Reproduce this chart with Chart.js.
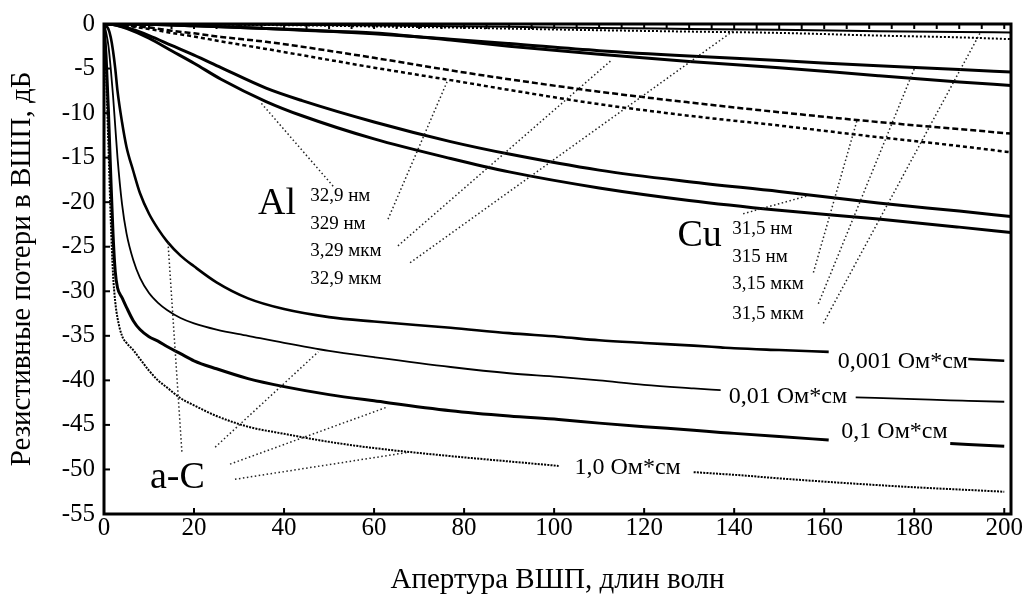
<!DOCTYPE html>
<html>
<head>
<meta charset="utf-8">
<script src="https://cdn.jsdelivr.net/npm/chart.js@4"></script>
<style>
  html, body { margin: 0; padding: 0; background: #fff; }
  #wrap { width: 1025px; height: 607px; position: relative; }
</style>
</head>
<body>
<div id="wrap"><canvas id="loss-chart"></canvas></div>
<script>
// a-C films, resistivity curves (null = gap left for the label)
const xAC = [0, 0.5, 1, 1.5, 2, 2.5, 3, 4, 5, 6.5, 8, 10, 12, 14, 17, 20, 25, 32, 40, 50, 60, 77, 90, 101, 110, 120, 131, 137, 140, 150, 161, 167, 180, 188, 192, 200];
const acR0001 = [0, -0.2, -0.6, -1.5, -3, -5, -7.5, -11, -13.8, -16.5, -19.0, -21.3, -23.0, -24.4, -26.0, -27.2, -29.0, -30.8, -32.0, -32.9, -33.4, -34.1, -34.7, -35.1, -35.5, -35.8, -36.1, -36.3, -36.4, -36.6, -36.8, null, null, null, -37.6, -37.8];
const acR001 = [0, -1, -2.5, -5, -8, -11.5, -15, -20.2, -23.5, -26.5, -28.5, -30.2, -31.3, -32.1, -33.0, -33.6, -34.3, -35.0, -35.8, -36.7, -37.4, -38.5, -39.2, -39.6, -40.0, -40.5, -40.9, -41.1, null, null, null, -41.9, -42.1, -42.25, -42.3, -42.4];
const acR01 = [0, -4, -10, -17, -23.5, -27.8, -29.6, -30.7, -31.8, -33.3, -34.3, -35.1, -35.6, -36.2, -37.0, -37.8, -38.7, -39.8, -40.7, -41.6, -42.3, -43.4, -44.0, -44.4, -44.8, -45.2, -45.6, -45.85, -45.95, -46.3, -46.7, null, null, -47.1, -47.2, -47.4];
const acR1 = [0, -6, -14, -22, -28, -31.2, -33.0, -35.0, -35.8, -36.6, -37.6, -38.9, -40.0, -40.8, -42.0, -42.8, -44.0, -45.2, -46.0, -46.9, -47.6, -48.5, -49.1, -49.6, null, null, -50.3, -50.5, -50.6, -51.0, -51.4, -51.6, -52.0, -52.2, -52.3, -52.5];

// Al and Cu films
const xMetal = [0, 2, 5, 10, 15, 20, 26, 36, 44, 60, 77, 90, 110, 130, 150, 172, 190, 201.5];
const cu31nm = [0, -0.05, -0.4, -1.3, -2.4, -3.5, -4.9, -7.2, -8.6, -11.0, -13.2, -14.6, -16.4, -17.7, -18.8, -20.1, -21.0, -21.6];
const al32nm = [0, -0.05, -0.5, -1.6, -3.0, -4.4, -6.2, -8.7, -10.3, -12.9, -15.1, -16.6, -18.4, -19.8, -20.9, -21.9, -22.8, -23.4];
const cu315nm = [0, 0, -0.15, -0.4, -0.75, -1.05, -1.45, -2.0, -2.55, -3.8, -5.2, -6.2, -7.6, -8.8, -9.9, -11.0, -11.8, -12.3];
const al329nm = [0, 0, -0.2, -0.55, -1.0, -1.4, -1.95, -2.8, -3.5, -4.9, -6.3, -7.4, -9.0, -10.3, -11.4, -12.7, -13.7, -14.4];
const cu3um = [0, 0, 0, -0.05, -0.1, -0.2, -0.3, -0.5, -0.65, -1.1, -1.7, -2.2, -3.0, -3.6, -4.1, -4.7, -5.1, -5.4];
const al3um = [0, 0, 0, -0.05, -0.1, -0.2, -0.3, -0.5, -0.7, -1.0, -1.8, -2.5, -3.4, -4.2, -4.9, -5.8, -6.5, -6.9];
const cu31um = [0, 0, 0, 0, -0.02, -0.04, -0.06, -0.08, -0.1, -0.17, -0.25, -0.32, -0.45, -0.55, -0.65, -0.8, -0.9, -0.95];
const al32um = [0, 0, 0, 0, -0.03, -0.05, -0.08, -0.12, -0.15, -0.28, -0.4, -0.52, -0.7, -0.85, -1.0, -1.3, -1.5, -1.7];

const xTicks = [0, 20, 40, 60, 80, 100, 120, 140, 160, 180, 200];
const yTicks = [0, -5, -10, -15, -20, -25, -30, -35, -40, -45, -50, -55];

// text labels: [text, x, y, size]
const labels = [
  ["Al", 34.2, -20.2, 38],
  ["32,9 нм", 45.8, -19.3, 19],
  ["329 нм", 45.8, -22.4, 19],
  ["3,29 мкм", 45.8, -25.5, 19],
  ["32,9 мкм", 45.8, -28.6, 19],
  ["Cu", 127.4, -23.8, 38],
  ["31,5 нм", 139.6, -23.0, 19],
  ["315 нм", 139.6, -26.1, 19],
  ["3,15 мкм", 139.6, -29.2, 19],
  ["31,5 мкм", 139.6, -32.5, 19],
  ["a-C", 10.2, -51.0, 38],
  ["0,001 Ом*см", 163.0, -37.9, 24],
  ["0,01 Ом*см", 138.8, -41.8, 24],
  ["0,1 Ом*см", 163.8, -45.8, 24],
  ["1,0 Ом*см", 104.5, -49.8, 24]
];

// dotted leader lines from the labels to the curves: [x1, y1, x2, y2]
const leaders = [
  [50.9, -18.2, 34.7, -8.75],
  [63.1, -21.9, 76.2, -6.5],
  [65.3, -24.9, 112.9, -4.0],
  [68.0, -26.8, 140.0, -0.7],
  [142.0, -21.3, 156.2, -19.3],
  [157.6, -27.9, 167.3, -10.8],
  [158.7, -31.4, 180.2, -4.8],
  [159.8, -33.6, 194.7, -0.95],
  [17.3, -48.0, 14.2, -24.4],
  [24.7, -47.5, 47.6, -36.8],
  [28.0, -49.4, 62.9, -43.0],
  [29.1, -51.1, 67.3, -48.1]
];

function curve(xs, ys, width, dash) {
  return {
    data: xs.map((x, i) => ({ x: x, y: ys[i] })),
    borderColor: "#000",
    borderWidth: width,
    borderDash: dash || [],
    pointRadius: 0,
    fill: false,
    spanGaps: false,
    cubicInterpolationMode: "monotone"
  };
}

const serif = '"Liberation Serif", "Times New Roman", serif';
Chart.defaults.font.family = serif;
Chart.defaults.color = "#000";

// frame, inward ticks, leader lines and text labels
const decorations = {
  id: "decorations",
  afterDatasetsDraw(chart) {
    const ctx = chart.ctx;
    const a = chart.chartArea;
    const xs = chart.scales.x, ys = chart.scales.y;
    ctx.save();

    ctx.strokeStyle = "#222";
    ctx.lineWidth = 1.5;
    ctx.setLineDash([1.5, 2.5]);
    leaders.forEach(l => {
      ctx.beginPath();
      ctx.moveTo(xs.getPixelForValue(l[0]), ys.getPixelForValue(l[1]));
      ctx.lineTo(xs.getPixelForValue(l[2]), ys.getPixelForValue(l[3]));
      ctx.stroke();
    });
    ctx.setLineDash([]);

    ctx.strokeStyle = "#000";
    ctx.lineWidth = 2;
    xTicks.forEach(v => {
      const px = xs.getPixelForValue(v);
      ctx.beginPath(); ctx.moveTo(px, a.bottom); ctx.lineTo(px, a.bottom - 6); ctx.stroke();
    });
    for (let v = 5; v <= 200; v += 5) {
      const px = xs.getPixelForValue(v);
      ctx.beginPath(); ctx.moveTo(px, a.top); ctx.lineTo(px, a.top + 5); ctx.stroke();
    }
    yTicks.forEach(v => {
      const py = ys.getPixelForValue(v);
      ctx.beginPath(); ctx.moveTo(a.left, py); ctx.lineTo(a.left + 6, py); ctx.stroke();
    });

    ctx.lineWidth = 3;
    ctx.strokeRect(a.left, a.top, a.right - a.left, a.bottom - a.top);

    ctx.fillStyle = "#000";
    ctx.textAlign = "left";
    ctx.textBaseline = "middle";
    labels.forEach(t => {
      ctx.font = t[3] + "px " + serif;
      ctx.fillText(t[0], xs.getPixelForValue(t[1]), ys.getPixelForValue(t[2]));
    });
    ctx.restore();
  }
};

new Chart(document.getElementById("loss-chart").getContext("2d"), {
  type: "line",
  data: {
    datasets: [
      curve(xAC, acR0001, 2.6),
      curve(xAC, acR001, 1.8),
      curve(xAC, acR01, 3),
      curve(xAC, acR1, 2, [2, 1.2]),
      curve(xMetal, cu31nm, 3),
      curve(xMetal, al32nm, 3),
      curve(xMetal, cu315nm, 2.5, [6, 3]),
      curve(xMetal, al329nm, 2.5, [4, 3]),
      curve(xMetal, cu3um, 3),
      curve(xMetal, al3um, 3),
      curve(xMetal, cu31um, 2),
      curve(xMetal, al32um, 2, [2, 2])
    ]
  },
  options: {
    responsive: true,
    maintainAspectRatio: false,
    animation: false,
    layout: { padding: { top: 21, right: 14, bottom: 0, left: 0 } },
    plugins: {
      legend: { display: false },
      tooltip: { enabled: false }
    },
    scales: {
      x: {
        type: "linear",
        min: 0,
        max: 201.5,
        grid: { display: false, drawTicks: false },
        border: { display: false },
        ticks: { stepSize: 20, includeBounds: false, padding: -1, maxRotation: 0, font: { size: 25 } },
        title: { display: true, text: "Апертура ВШП, длин волн", font: { size: 29 }, padding: { top: 0, bottom: 9 } },
        afterFit(scale) { scale.height = 93; }
      },
      y: {
        type: "linear",
        min: -55,
        max: 0,
        grid: { display: false, drawTicks: false },
        border: { display: false },
        ticks: { stepSize: 5, padding: 9, font: { size: 25 } },
        title: { display: true, text: "Резистивные потери в ВШП, дБ", font: { size: 29 }, padding: { top: 5, bottom: 0 } },
        afterFit(scale) { scale.width = 104; }
      }
    }
  },
  plugins: [decorations]
});
</script>
</body>
</html>
